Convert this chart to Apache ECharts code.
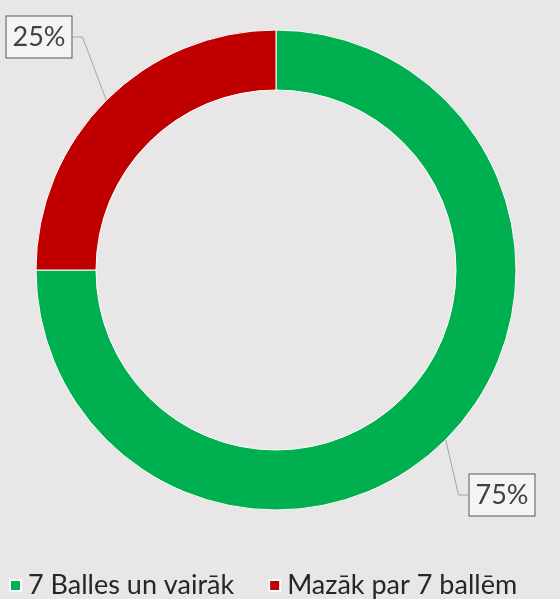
<!DOCTYPE html>
<html>
<head>
<meta charset="utf-8">
<script src="https://cdn.jsdelivr.net/npm/echarts@6/dist/echarts.min.js"></script>
<style>
  html, body { margin: 0; padding: 0; background: #e8e6e7; }
  #chart { width: 560px; height: 599px; }
</style>
</head>
<body>
<div id="chart"></div>
<script>
var categories = ['7 Balles un vairāk', 'Mazāk par 7 ballēm'];
var values = [75, 25];
var colors = ['#00b050', '#c00000'];
// where each label box sits
var labelSpots = [[502, 495], [39, 37]];

var font = 'Lato, "Open Sans", sans-serif';

echarts.init(document.getElementById('chart')).setOption({
    backgroundColor: '#e8e6e7',
    legend: {
        left: 4,
        top: 567,
        icon: 'rect',
        itemWidth: 11,
        itemHeight: 11,
        itemGap: 34,
        data: categories,
        textStyle: {
            fontFamily: font,
            fontSize: 27,
            color: '#262626',
            padding: [0, 0, 0, 2]
        }
    },
    series: [
        {
            type: 'pie',
            center: [276, 270],
            radius: [180, 240],
            startAngle: 90,
            clockwise: true,
            animation: false,
            itemStyle: {
                borderColor: '#ffffff',
                borderWidth: 1
            },
            label: {
                position: 'outside',
                formatter: '{d}%',
                fontFamily: font,
                fontSize: 27,
                color: '#404040',
                backgroundColor: '#f4f4f4',
                borderColor: '#595959',
                borderWidth: 1,
                padding: [8, 6, 6, 6]
            },
            labelLine: {
                show: true,
                length: 20,
                length2: 10,
                lineStyle: { color: '#a6a6a6', width: 1 }
            },
            labelLayout: function (params) {
                var p = labelSpots[params.dataIndex];
                return { x: p[0], y: p[1], align: 'center', verticalAlign: 'middle' };
            },
            data: categories.map(function (c, i) {
                return { name: c, value: values[i], itemStyle: { color: colors[i] } };
            })
        }
    ]
});
</script>
</body>
</html>
